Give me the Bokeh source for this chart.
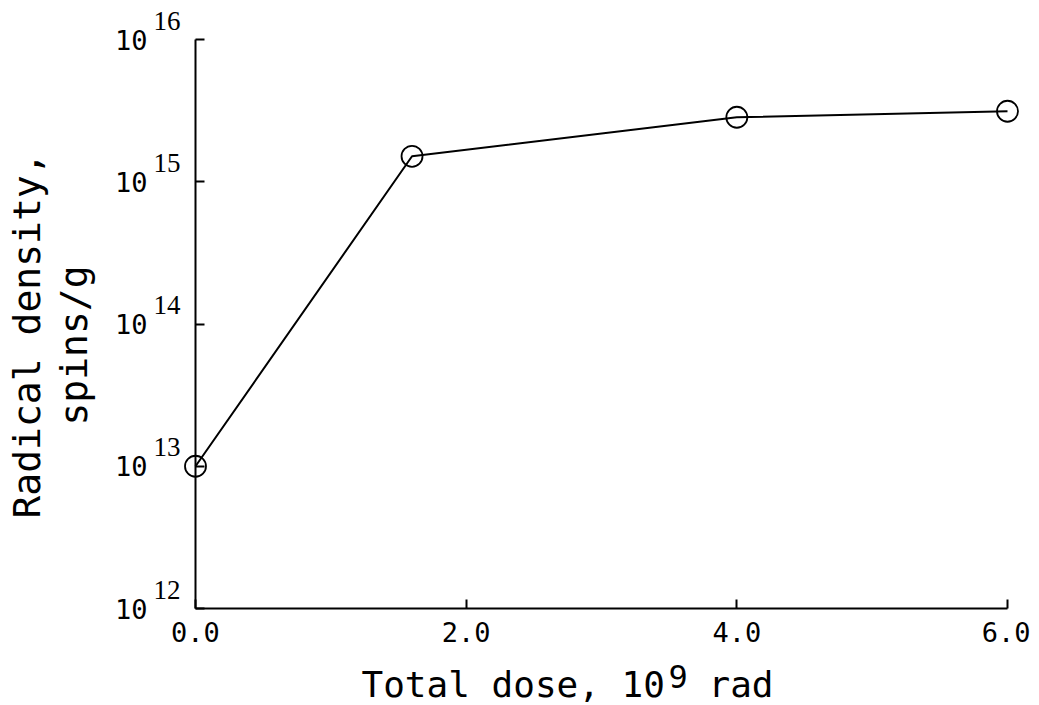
import math
from bokeh.plotting import figure
from bokeh.models import (Range1d, FixedTicker, PrintfTickFormatter, Label,
                          LabelSet, LinearAxis, LogAxis, ColumnDataSource)
from bokeh.embed import file_html
from bokeh.resources import INLINE

# ---- data ----
dose = [0.0, 1.6, 4.0, 6.0]                    # 10^9 rad
density = [1.0e13, 1.51e15, 2.84e15, 3.13e15]  # spins/g

x_ticks = [0, 2, 4, 6]
y_ticks = [1e12, 1e13, 1e14, 1e15, 1e16]
y_tick_base = ["10", "10", "10", "10", "10"]
y_tick_exp = ["12", "13", "14", "15", "16"]

x_title_main = "Total dose, 10"
x_title_sup = "9"
x_title_end = "rad"
y_title_1 = "Radical density,"
y_title_2 = "spins/g"

FONT = "DejaVu Sans Mono"

# ---- layout (pixels) ----
W, H = 1030, 702
AX_L, AX_R, AX_T, AX_B = 195, 1007, 39, 608   # where the axes box sits
X0, X1 = x_ticks[0], x_ticks[-1]
LY0, LY1 = math.log10(y_ticks[0]), math.log10(y_ticks[-1])
ppx = (AX_R - AX_L) / (X1 - X0)
ppy = (AX_B - AX_T) / (LY1 - LY0)
x_range = Range1d(X0 - AX_L / ppx, X1 + (W - AX_R) / ppx)
y_range = Range1d(10 ** (LY0 - (H - AX_B) / ppy), 10 ** (LY1 + AX_T / ppy))

p = figure(width=W, height=H, output_backend="svg", toolbar_location=None,
           y_axis_type="log", x_axis_location=None, y_axis_location=None,
           x_range=x_range, y_range=y_range,
           min_border=0, min_border_left=0, min_border_right=0,
           min_border_top=0, min_border_bottom=0)
p.outline_line_color = None
p.grid.visible = False
p.background_fill_color = "white"
p.border_fill_color = "white"

# x axis, fixed at the bottom of the value range
xa = LinearAxis(fixed_location=y_ticks[0], bounds=(X0, X1),
                ticker=FixedTicker(ticks=x_ticks, minor_ticks=[]),
                formatter=PrintfTickFormatter(format="%.1f"))
xa.axis_line_width = 2
xa.axis_line_color = "black"
xa.major_tick_in = 9
xa.major_tick_out = 0
xa.major_tick_line_width = 2
xa.major_tick_line_color = "black"
xa.minor_tick_line_color = None
xa.major_label_text_font = FONT
xa.major_label_text_font_size = "27px"
xa.major_label_text_color = "black"
xa.major_label_standoff = 13
p.add_layout(xa, "below")

# y axis, fixed at dose 0; its labels are the "10" bases
ya = LogAxis(fixed_location=X0, bounds=(y_ticks[0], y_ticks[-1]),
             ticker=FixedTicker(ticks=y_ticks, minor_ticks=[]),
             major_label_overrides=dict(zip(y_ticks, y_tick_base)))
ya.axis_line_width = 2
ya.axis_line_color = "black"
ya.major_tick_in = 9
ya.major_tick_out = 0
ya.major_tick_line_width = 2
ya.major_tick_line_color = "black"
ya.minor_tick_line_color = None
ya.major_label_text_font = FONT
ya.major_label_text_font_size = "27px"
ya.major_label_text_color = "black"
ya.major_label_standoff = 48
p.add_layout(ya, "left")

# exponents of the y tick labels (raised)
src = ColumnDataSource(dict(x=[X0] * len(y_ticks), y=y_ticks, exp=y_tick_exp))
p.add_layout(LabelSet(x="x", y="y", text="exp", source=src,
                      x_offset=-42, y_offset=10, text_align="left",
                      text_baseline="alphabetic", text_font=FONT,
                      text_font_size="27px", text_color="black"))

# data
p.line(dose, density, line_color="black", line_width=2)
p.scatter(dose, density, marker="circle", size=21, fill_color=None,
          line_color="black", line_width=1.8)

# x title
p.add_layout(Label(x=361, y=H - 684, x_units="screen", y_units="screen",
                   text=x_title_main, text_font=FONT, text_font_size="36px",
                   text_align="left", text_baseline="alphabetic",
                   text_color="black"))
p.add_layout(Label(x=668, y=H - 676, x_units="screen", y_units="screen",
                   text=x_title_sup, text_font=FONT, text_font_size="32px",
                   text_align="left", text_baseline="alphabetic",
                   text_color="black"))
p.add_layout(Label(x=708, y=H - 684, x_units="screen", y_units="screen",
                   text=x_title_end, text_font=FONT, text_font_size="36px",
                   text_align="left", text_baseline="alphabetic",
                   text_color="black"))

# y title (two rotated lines)
p.add_layout(Label(x=26, y=H - 335, x_units="screen", y_units="screen",
                   text=y_title_1, angle=math.pi / 2, text_font=FONT,
                   text_font_size="38px", text_align="center",
                   text_baseline="alphabetic", text_color="black"))
p.add_layout(Label(x=73, y=H - 345, x_units="screen", y_units="screen",
                   text=y_title_2, angle=math.pi / 2, text_font=FONT,
                   text_font_size="38px", text_align="center",
                   text_baseline="alphabetic", text_color="black"))

open("out.html", "w").write(file_html(p, INLINE))
